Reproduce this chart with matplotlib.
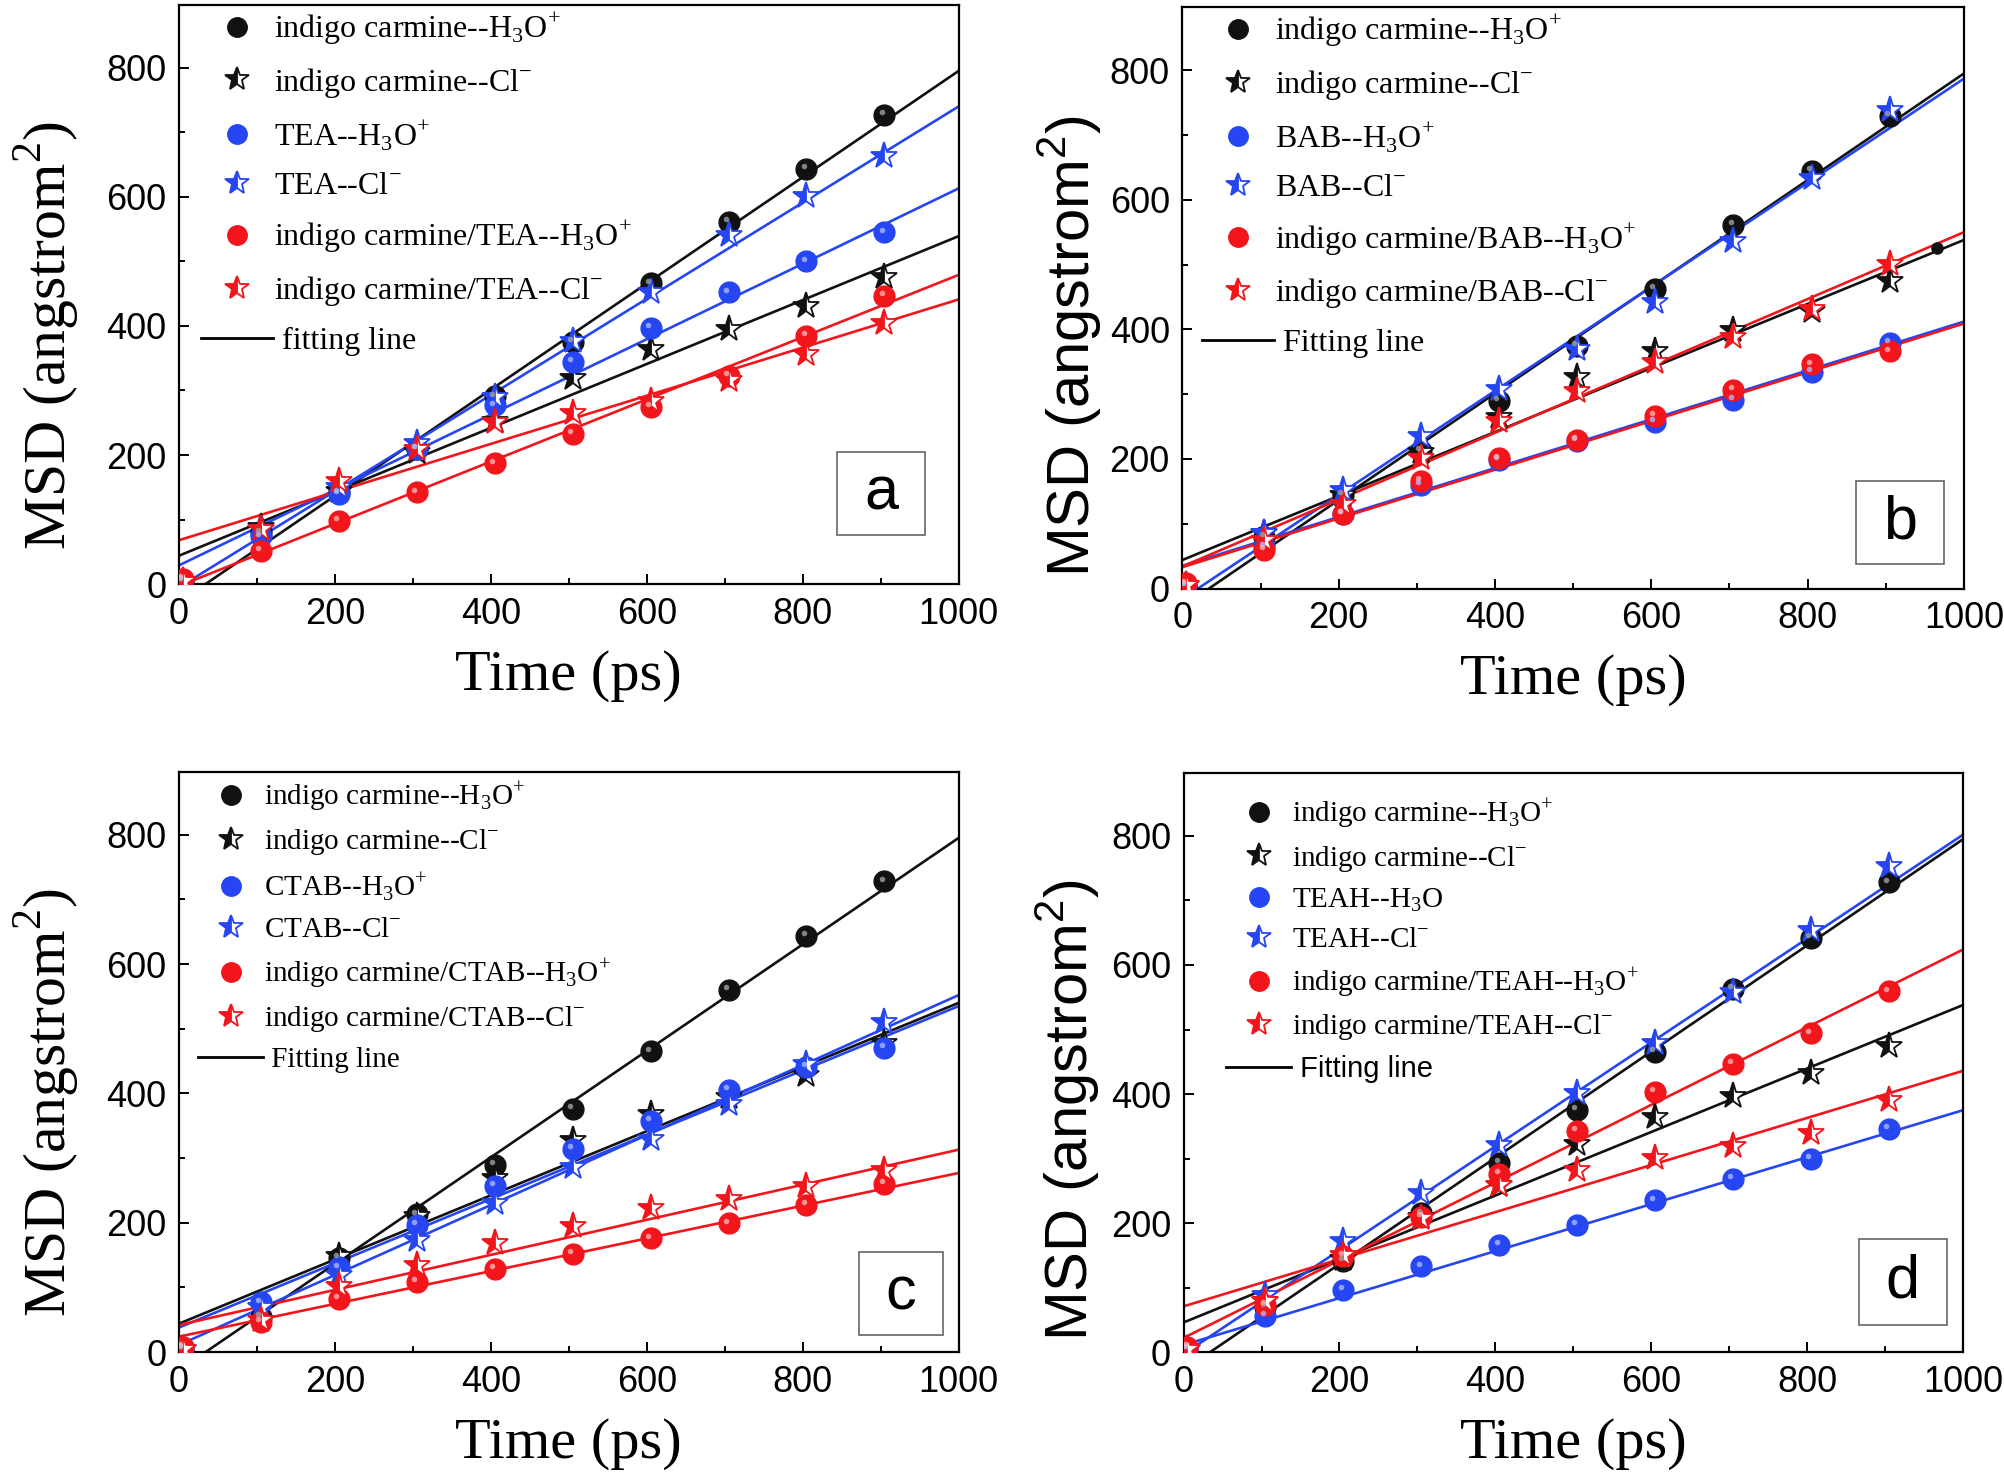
import numpy as np
import matplotlib.pyplot as plt
from matplotlib.lines import Line2D
from matplotlib.patches import Rectangle
from matplotlib.transforms import ScaledTranslation

plt.rcParams['font.family'] = ['Liberation Sans', 'DejaVu Sans']

# time axis of the MSD curves
time_ps = [5, 105, 205, 305, 405, 505, 605, 705, 805, 905]

# panel a (TEA)
a_ic_h3o = [5, 80, 142, 210, 291, 375, 466, 561, 643, 727]
a_ic_cl = [5, 88, 145, 204, 252, 320, 364, 395, 431, 476]
a_tea_h3o = [5, 74, 140, 210, 277, 344, 397, 452, 500, 545]
a_tea_cl = [5, 85, 150, 218, 290, 377, 452, 541, 601, 663]
a_ictea_h3o = [8, 51, 98, 142, 187, 233, 275, 323, 385, 447]
a_ictea_cl = [5, 85, 160, 210, 251, 265, 284, 317, 357, 404]
a_slope = [0.823, 0.495, 0.584, 0.745, 0.482, 0.373]
a_icpt = [-28, 44, 29, -5, -3, 68]

# panel b (BAB)
b_ic_h3o = [5, 80, 145, 213, 290, 375, 463, 561, 645, 729]
b_ic_cl = [5, 85, 145, 210, 264, 326, 366, 399, 428, 474]
b_bab_h3o = [5, 65, 115, 160, 198, 228, 257, 291, 334, 379]
b_bab_cl = [5, 86, 152, 235, 308, 370, 443, 536, 634, 738]
b_icbab_h3o = [8, 60, 115, 166, 201, 229, 267, 306, 346, 366]
b_icbab_cl = [5, 75, 131, 202, 259, 305, 350, 388, 431, 501]
b_slope = [0.823, 0.494, 0.377, 0.803, 0.376, 0.516]
b_icpt = [-28, 44, 35, -16, 33, 34]
b_extra_t = [965]
b_extra_msd = [525]

# panel c (CTAB)
c_ic_h3o = [5, 55, 146, 213, 290, 376, 465, 560, 644, 728]
c_ic_cl = [5, 70, 148, 210, 270, 328, 368, 395, 428, 478]
c_ctab_h3o = [5, 77, 131, 197, 257, 314, 357, 405, 441, 470]
c_ctab_cl = [5, 70, 120, 173, 231, 287, 330, 384, 445, 511]
c_icctab_h3o = [8, 47, 82, 109, 129, 152, 176, 199, 228, 260]
c_icctab_cl = [5, 50, 102, 135, 168, 195, 223, 237, 257, 281]
c_slope = [0.823, 0.496, 0.497, 0.541, 0.253, 0.271]
c_icpt = [-28, 44, 38, 11, 24, 42]

# panel d (TEAH)
d_ic_h3o = [5, 70, 141, 215, 293, 376, 465, 563, 642, 728]
d_ic_cl = [5, 80, 145, 210, 259, 323, 365, 397, 432, 475]
d_teah_h3o = [5, 56, 97, 133, 166, 197, 235, 268, 300, 346]
d_teah_cl = [5, 88, 173, 246, 321, 401, 479, 558, 654, 753]
d_icteah_h3o = [8, 73, 149, 210, 276, 343, 403, 447, 494, 559]
d_icteah_cl = [5, 80, 150, 208, 259, 282, 301, 319, 339, 390]
d_slope = [0.823, 0.492, 0.364, 0.805, 0.602, 0.365]
d_icpt = [-28, 46, 11, -3, 22, 71]

H3O = r'H$_{\mathregular{3}}$O$^{\mathregular{+}}$'
CL = r'Cl$^{\mathregular{-}}$'
a_labels = ['indigo carmine--' + H3O, 'indigo carmine--' + CL, 'TEA--' + H3O, 'TEA--' + CL,
            'indigo carmine/TEA--' + H3O, 'indigo carmine/TEA--' + CL]
b_labels = ['indigo carmine--' + H3O, 'indigo carmine--' + CL, 'BAB--' + H3O, 'BAB--' + CL,
            'indigo carmine/BAB--' + H3O, 'indigo carmine/BAB--' + CL]
c_labels = ['indigo carmine--' + H3O, 'indigo carmine--' + CL, 'CTAB--' + H3O, 'CTAB--' + CL,
            'indigo carmine/CTAB--' + H3O, 'indigo carmine/CTAB--' + CL]
d_labels = ['indigo carmine--' + H3O, 'indigo carmine--' + CL, r'TEAH--H$_{\mathregular{3}}$O', 'TEAH--' + CL,
            'indigo carmine/TEAH--' + H3O, 'indigo carmine/TEAH--' + CL]

BLACK = '#111111'
BLUE = '#2546f2'
RED = '#f2161c'
colors = [BLACK, BLACK, BLUE, BLUE, RED, RED]
highlights = ['#9aa0a0', '#ffffff', '#a8b8ff', '#ffffff', '#ffb0b0', '#ffffff']

fig = plt.figure(figsize=(20.04, 14.75), dpi=100)


def draw_panel(rect, series, slopes, icpts, labels, fit_label, letter, box,
               ylabel_family, ylabel_pad, ylabel_y, leg_anchor, leg_size, leg_handle,
               leg_space, fit_family):
    ax = fig.add_axes(rect)
    xfit = np.array([0, 1000])
    for k in range(6):
        ax.plot(xfit, slopes[k] * xfit + icpts[k], color=colors[k], lw=1.9, zorder=2)
    shift = ax.transData + ScaledTranslation(-2 / 72, 2 / 72, fig.dpi_scale_trans)
    handles = []
    for k in range(6):
        if k % 2 == 0:
            ax.plot(time_ps, series[k], ls='none', marker='o', ms=15, color=colors[k],
                    mec=colors[k], zorder=3)
            ax.plot(time_ps, series[k], ls='none', marker='o', ms=4, color=highlights[k],
                    mec='none', alpha=0.8, zorder=4, transform=shift)
            handles.append(Line2D([], [], ls='none', marker='o', ms=14, color=colors[k]))
        else:
            ax.plot(time_ps, series[k], ls='none', marker='*', ms=20, color=colors[k],
                    mfc=colors[k], mfcalt='white', fillstyle='left', mec=colors[k],
                    mew=1.3, zorder=3)
            handles.append(Line2D([], [], ls='none', marker='*', ms=18, color=colors[k],
                                  mfc=colors[k], mfcalt='white', fillstyle='left',
                                  mec=colors[k], mew=1.3))
    handles.append(Line2D([], [], color='black', lw=2))
    leg = ax.legend(handles, labels + [fit_label], loc='upper left', bbox_to_anchor=leg_anchor,
                    frameon=False, prop={'family': 'Liberation Serif', 'size': leg_size},
                    handlelength=leg_handle, handletextpad=0.05, labelspacing=leg_space,
                    borderaxespad=0, borderpad=0)
    leg.get_texts()[-1].set_family(fit_family)

    ax.add_patch(Rectangle((box[0], box[1]), box[2], box[3], transform=ax.transAxes,
                           fill=False, edgecolor='#666666', lw=1.2, zorder=5))
    ax.text(box[0] + box[2] / 2, box[1] + box[3] / 2, letter, transform=ax.transAxes,
            ha='center', va='center', fontsize=44, family='Liberation Sans')

    ax.set_xlim(0, 1000)
    ax.set_ylim(0, 897)
    ax.set_xticks([0, 200, 400, 600, 800, 1000])
    ax.set_xticks([100, 300, 500, 700, 900], minor=True)
    ax.set_yticks([0, 200, 400, 600, 800])
    ax.set_yticks([100, 300, 500, 700], minor=True)
    ax.tick_params(which='both', direction='in', labelsize=26, width=1.4)
    ax.tick_params(which='major', length=7, pad=9)
    ax.tick_params(which='minor', length=4)
    for s in ax.spines.values():
        s.set_linewidth(1.6)
    ax.set_xlabel('Time (ps)', family='Liberation Serif', fontsize=42, labelpad=13)
    ax.set_ylabel(r'MSD (angstrom$^{\mathregular{2}}$)', family=ylabel_family, fontsize=43,
                  labelpad=ylabel_pad)
    ax.yaxis.label.set_y(ylabel_y)
    return ax


ax_a = draw_panel([0.0893, 0.604, 0.389, 0.3925],
                  [a_ic_h3o, a_ic_cl, a_tea_h3o, a_tea_cl, a_ictea_h3o, a_ictea_cl],
                  a_slope, a_icpt, a_labels, ' fitting line', 'a', (0.844, 0.084, 0.113, 0.144),
                  'Liberation Serif', 18, 0.43, (0.028, 0.99), 23, 2.25, 0.58, 'Liberation Serif')
ax_b = draw_panel([0.590, 0.601, 0.390, 0.394],
                  [b_ic_h3o, b_ic_cl, b_bab_h3o, b_bab_cl, b_icbab_h3o, b_icbab_cl],
                  b_slope, b_icpt, b_labels, ' Fitting line', 'b', (0.862, 0.042, 0.113, 0.143),
                  'Liberation Sans', 4, 0.418, (0.025, 0.99), 23, 2.25, 0.58, 'Liberation Serif')
ax_b.plot(b_extra_t, b_extra_msd, ls='none', marker='o', ms=8, color=BLACK, zorder=3)
ax_c = draw_panel([0.0893, 0.0833, 0.389, 0.3933],
                  [c_ic_h3o, c_ic_cl, c_ctab_h3o, c_ctab_cl, c_icctab_h3o, c_icctab_cl],
                  c_slope, c_icpt, c_labels, ' Fitting line', 'c', (0.872, 0.029, 0.108, 0.143),
                  'Liberation Serif', 18, 0.43, (0.025, 0.987), 21, 2.2, 0.45, 'Liberation Serif')
ax_d = draw_panel([0.5906, 0.0833, 0.389, 0.3924],
                  [d_ic_h3o, d_ic_cl, d_teah_h3o, d_teah_cl, d_icteah_h3o, d_icteah_cl],
                  d_slope, d_icpt, d_labels, ' Fitting line', 'd', (0.866, 0.047, 0.113, 0.149),
                  'Liberation Sans', 6, 0.418, (0.055, 0.96), 21, 2.2, 0.43, 'Liberation Sans')

fig.savefig('out.png', dpi=100)
